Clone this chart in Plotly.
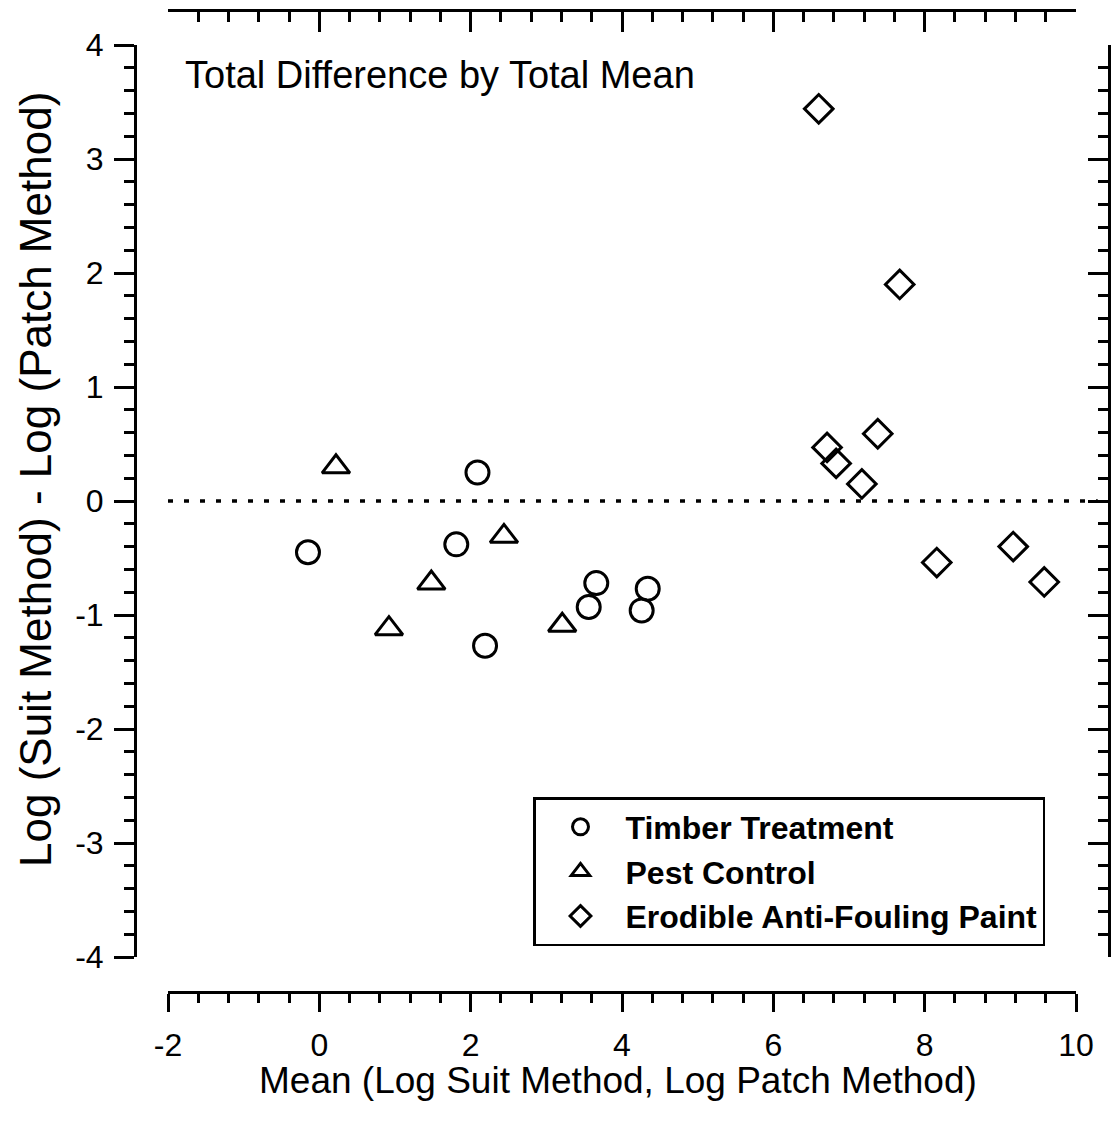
import plotly.graph_objects as go

# ---- data ----
timber_x = [-0.15, 2.09, 1.81, 2.19, 3.66, 3.56, 4.34, 4.26]
timber_y = [-0.45, 0.25, -0.38, -1.27, -0.72, -0.93, -0.77, -0.96]
pest_x = [0.22, 1.48, 0.92, 2.44, 3.21]
pest_y = [0.30, -0.72, -1.12, -0.31, -1.09]
paint_x = [6.60, 7.67, 6.71, 6.83, 7.38, 7.17, 8.16, 9.17, 9.58]
paint_y = [3.44, 1.90, 0.47, 0.33, 0.59, 0.15, -0.54, -0.40, -0.71]

series_names = ["Timber Treatment", "Pest Control", "Erodible Anti-Fouling Paint"]

x_tickvals = [-2, 0, 2, 4, 6, 8, 10]
x_ticktext = ["-2", "0", "2", "4", "6", "8", "10"]
y_tickvals = [-4, -3, -2, -1, 0, 1, 2, 3, 4]
y_ticktext = ["-4", "-3", "-2", "-1", "0", "1", "2", "3", "4"]

chart_title = "Total Difference by Total Mean"
x_title = "Mean (Log Suit Method, Log Patch Method)"
y_title = "Log (Suit Method) - Log (Patch Method)"

# ---- layout geometry ----
W, H = 1113, 1131
FONT = "Liberation Sans, Arial, sans-serif"


def px(v):
    return v / W


def py(v):
    return (H - v) / H


fig = go.Figure()

mk_line = dict(color="black", width=3)
fig.add_trace(go.Scatter(x=timber_x, y=timber_y, mode="markers", name=series_names[0],
                         marker=dict(symbol="circle-open", size=23, color="black", line=mk_line)))
fig.add_trace(go.Scatter(x=pest_x, y=pest_y, mode="markers", name=series_names[1],
                         marker=dict(symbol="triangle-up-open", size=24, color="black", line=mk_line)))
fig.add_trace(go.Scatter(x=paint_x, y=paint_y, mode="markers", name=series_names[2],
                         marker=dict(symbol="diamond-open", size=22, color="black", line=mk_line)))
# empty trace so the mirror (top / right) axes exist
fig.add_trace(go.Scatter(x=[None], y=[None], xaxis="x2", yaxis="y2", showlegend=False,
                         hoverinfo="skip", mode="markers"))

# zero reference line (dotted)
fig.add_shape(type="line", xref="x domain", yref="y", x0=0, x1=1.024, y0=0, y1=0,
              line=dict(color="black", width=3.5, dash="5px,11px"))

axis_common = dict(showgrid=False, zeroline=False, showline=True, linecolor="black",
                   linewidth=3, tickcolor="black", tickwidth=2.5, automargin=False)

fig.update_layout(
    width=W, height=H,
    margin=dict(l=0, r=0, t=0, b=0, pad=0, autoexpand=False),
    paper_bgcolor="white", plot_bgcolor="white",
    font=dict(family=FONT, color="black"),
    xaxis=dict(domain=[px(168), px(1076)], range=[-2, 10], anchor="free", position=py(992),
               ticks="outside", ticklen=18, tickvals=x_tickvals, ticktext=x_ticktext,
               tickfont=dict(size=32, family=FONT), ticklabelstandoff=6,
               minor=dict(tick0=0, dtick=0.4, ticks="outside", ticklen=9,
                          tickwidth=2.5, tickcolor="black"),
               **axis_common),
    yaxis=dict(domain=[py(957), py(45)], range=[-4, 4], anchor="free", position=px(135),
               ticks="outside", ticklen=20, tickvals=y_tickvals, ticktext=y_ticktext,
               tickfont=dict(size=32, family=FONT), ticklabelstandoff=4,
               minor=dict(tick0=0, dtick=0.2, ticks="outside", ticklen=10,
                          tickwidth=2.5, tickcolor="black"),
               **axis_common),
    xaxis2=dict(overlaying="x", side="top", anchor="free", position=py(10), range=[-2, 10],
                ticks="inside", ticklen=20, tickvals=x_tickvals, showticklabels=False,
                minor=dict(tick0=0, dtick=0.4, ticks="inside", ticklen=10,
                           tickwidth=2.5, tickcolor="black"),
                **axis_common),
    yaxis2=dict(overlaying="y", side="right", anchor="free", position=px(1109), range=[-4, 4],
                ticks="inside", ticklen=20, tickvals=y_tickvals, showticklabels=False,
                minor=dict(tick0=0, dtick=0.2, ticks="inside", ticklen=10,
                           tickwidth=2.5, tickcolor="black"),
                **axis_common),
    legend=dict(x=px(533), y=py(797), xanchor="left", yanchor="top",
                bordercolor="black", borderwidth=2.5, bgcolor="white",
                font=dict(family=FONT, size=32, weight="bold", color="black"),
                itemwidth=80, tracegroupgap=0),
    showlegend=True,
)

fig.add_annotation(text=chart_title, xref="paper", yref="paper", x=px(183), y=py(75),
                   xanchor="left", yanchor="middle", showarrow=False,
                   font=dict(family=FONT, size=38, color="black"))
fig.add_annotation(text=x_title, xref="paper", yref="paper", x=px(618), y=py(1080),
                   xanchor="center", yanchor="middle", showarrow=False,
                   font=dict(family=FONT, size=37, color="black"))
fig.add_annotation(text=y_title, xref="paper", yref="paper", x=px(35), y=py(480),
                   xanchor="center", yanchor="middle", showarrow=False, textangle=-90,
                   font=dict(family=FONT, size=44, color="black"))

fig.write_html("out.html")
